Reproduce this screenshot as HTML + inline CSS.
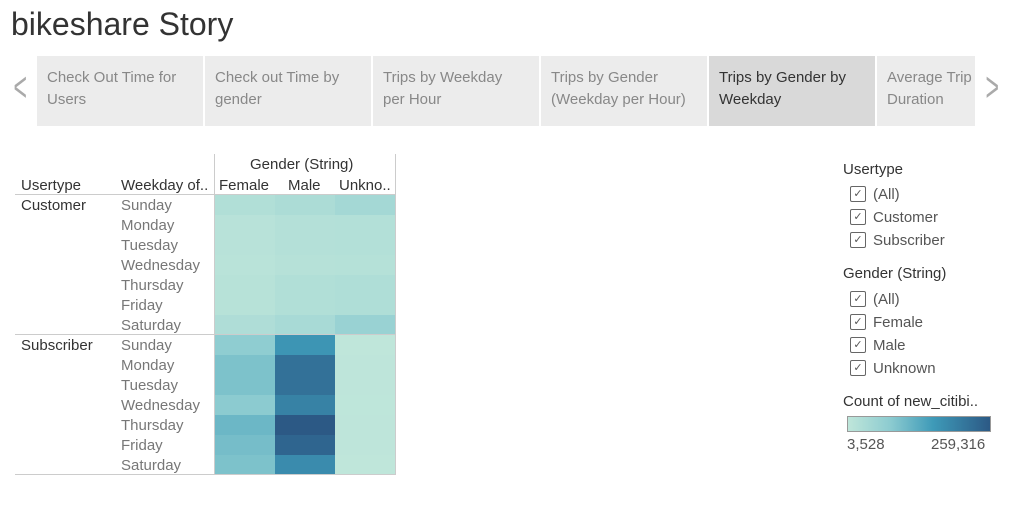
<!DOCTYPE html>
<html><head><meta charset="utf-8"><style>
body{margin:0;width:1013px;height:513px;background:#fff;font-family:"Liberation Sans",sans-serif;position:relative;overflow:hidden}
.a{position:absolute}
.tab{position:absolute;top:56px;height:70px;width:166px;background:#ececec;color:#888;font-size:15px;line-height:22px;box-sizing:border-box;padding:11px 0 0 10px}
.tab.sel{background:#d9d9d9;color:#333}
.t{position:absolute;font-size:15px;color:#333}
.d{position:absolute;font-size:15px;color:#777;left:121px}
.cb{position:absolute;left:850px;width:14px;height:14px;border:1px solid #666;border-radius:2px;font-size:11px;line-height:14px;text-align:center;color:#555}
.cl{position:absolute;left:873px;font-size:15px;color:#555}
</style></head><body>
<div class="a" style="left:11px;top:6px;font-size:32px;color:#333">bikeshare Story</div>
<div class="a" style="left:8px;top:66px;font-size:42px;line-height:42px;color:#aaa;transform:scaleX(0.55)">&lt;</div>
<div class="a" style="left:980px;top:66px;font-size:42px;line-height:42px;color:#aaa;transform:scaleX(0.55)">&gt;</div>
<div class="tab" style="left:37px">Check Out Time for<br>Users</div>
<div class="tab" style="left:205px">Check out Time by<br>gender</div>
<div class="tab" style="left:373px">Trips by Weekday<br>per Hour</div>
<div class="tab" style="left:541px">Trips by Gender<br>(Weekday per Hour)</div>
<div class="tab sel" style="left:709px">Trips by Gender by<br>Weekday</div>
<div class="tab" style="left:877px;width:98px;overflow:hidden;white-space:nowrap">Average Trip<br>Duration</div>

<div class="t" style="left:250px;top:156px">Gender (String)</div>
<div class="t" style="left:21px;top:177px">Usertype</div>
<div class="t" style="left:121px;top:177px">Weekday of..</div>
<div class="t" style="left:219px;top:177px">Female</div>
<div class="t" style="left:288px;top:177px">Male</div>
<div class="t" style="left:339px;top:177px">Unkno..</div>
<div class="t" style="left:21px;top:197px">Customer</div>
<div class="t" style="left:21px;top:337px">Subscriber</div>
<div id="days"></div>
<svg class="a" id="hm" style="left:0;top:0" width="1013" height="513"></svg>

<div class="a" style="left:843px;top:161px;font-size:15px;color:#333">Usertype</div>
<div class="cb" style="top:186px">✓</div><div class="cl" style="top:186px">(All)</div>
<div class="cb" style="top:209px">✓</div><div class="cl" style="top:209px">Customer</div>
<div class="cb" style="top:232px">✓</div><div class="cl" style="top:232px">Subscriber</div>
<div class="a" style="left:843px;top:265px;font-size:15px;color:#333">Gender (String)</div>
<div class="cb" style="top:291px">✓</div><div class="cl" style="top:291px">(All)</div>
<div class="cb" style="top:314px">✓</div><div class="cl" style="top:314px">Female</div>
<div class="cb" style="top:337px">✓</div><div class="cl" style="top:337px">Male</div>
<div class="cb" style="top:360px">✓</div><div class="cl" style="top:360px">Unknown</div>
<div class="a" style="left:843px;top:393px;font-size:15px;color:#333">Count of new_citibi..</div>
<div class="a" style="left:847px;top:416px;width:142px;height:14px;border:1px solid #999;background:linear-gradient(to right,#bfe6da,#8ccbd0 30%,#3e9ab8 60%,#2c5985)"></div>
<div class="a" style="left:847px;top:436px;font-size:15px;color:#555">3,528</div>
<div class="a" style="left:931px;top:436px;font-size:15px;color:#555">259,316</div>

<script>
const days=["Sunday","Monday","Tuesday","Wednesday","Thursday","Friday","Saturday"];
const genders=["Female","Male","Unknown"];
const custFemale=[24000,14000,14000,12000,16000,16000,28000];
const custMale=[32000,20000,20000,17000,24000,24000,38000];
const custUnknown=[44000,22000,22000,19000,27000,27000,60000];
const subFemale=[75000,95000,95000,80000,112000,102000,95000];
const subMale=[165000,222000,222000,195000,259316,240000,180000];
const subUnknown=[4000,5000,5000,4500,5000,5000,3528];
const vmin=3528,vmax=259316;
const stops=[[0,[191,230,218]],[0.3,[140,203,208]],[0.6,[62,154,184]],[1,[44,89,133]]];
function color(v){let t=(v-vmin)/(vmax-vmin);t=Math.max(0,Math.min(1,t));
 for(let i=1;i<stops.length;i++){if(t<=stops[i][0]){const a=stops[i-1],b=stops[i],f=(t-a[0])/(b[0]-a[0]);
 return "rgb("+a[1].map((c,k)=>Math.round(c+(b[1][k]-c)*f)).join(",")+")";}}return "rgb(44,89,133)";}
const x0=215,cw=60,y0=195,rh=20;
const xs=g=>x0+g*cw, ys=(grp,d)=>y0+(grp*7+d)*rh;
const svg=document.getElementById('hm'),NS="http://www.w3.org/2000/svg";
const groups=[[custFemale,custMale,custUnknown],[subFemale,subMale,subUnknown]];
groups.forEach((grp,gi)=>grp.forEach((ser,si)=>ser.forEach((v,di)=>{
 const r=document.createElementNS(NS,'rect');
 r.setAttribute('x',xs(si));r.setAttribute('y',ys(gi,di));r.setAttribute('width',cw);r.setAttribute('height',rh);r.setAttribute('fill',color(v));
 
 
 svg.appendChild(r);})));
function line(x1,y1,x2,y2,c){const l=document.createElementNS(NS,'line');l.setAttribute('x1',x1);l.setAttribute('y1',y1);l.setAttribute('x2',x2);l.setAttribute('y2',y2);l.setAttribute('stroke',c);l.setAttribute('stroke-width',1);
 
 
 svg.appendChild(l);}
line(15,194.5,396,194.5,'#ccc');line(15,334.5,396,334.5,'#ccc');line(15,474.5,396,474.5,'#ccc');
line(214.5,154,214.5,475,'#ccc');line(395.5,154,395.5,475,'#ccc');
const dd=document.getElementById('days');
[0,1].forEach(g=>days.forEach((d,i)=>{const e=document.createElement('div');e.className='d';e.style.top=(ys(g,i)+2)+'px';e.textContent=d;
 
 
 dd.appendChild(e);}));
</script>
</body></html>
